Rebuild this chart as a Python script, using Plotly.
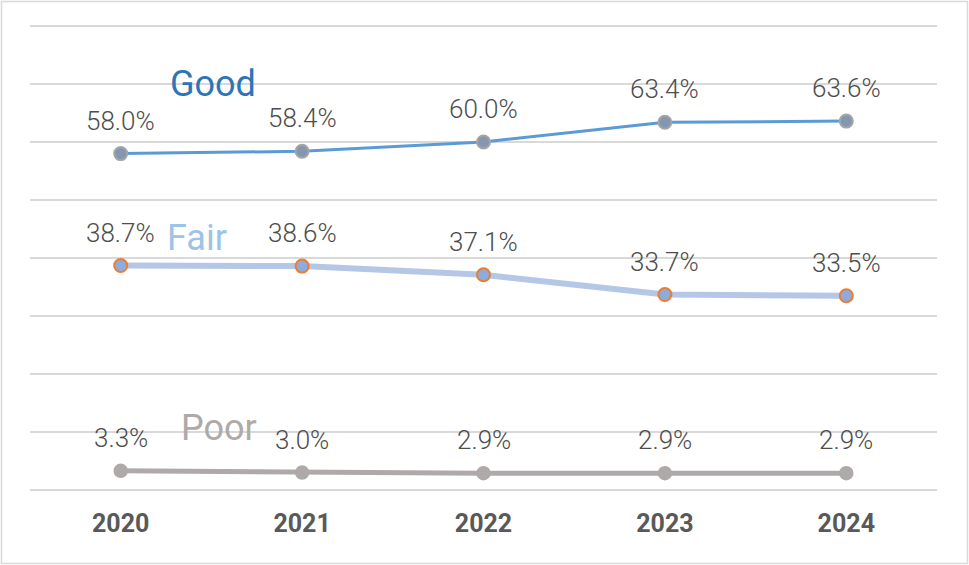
import plotly.graph_objects as go

years = ["2020", "2021", "2022", "2023", "2024"]
good = [58.0, 58.4, 60.0, 63.4, 63.6]
fair = [38.7, 38.6, 37.1, 33.7, 33.5]
poor = [3.3, 3.0, 2.9, 2.9, 2.9]

FONT = "Roboto"
LABEL_COLOR = "#4d4d4d"

fig = go.Figure()

fig.add_trace(go.Scatter(
    x=years, y=poor, mode="lines+markers",
    line=dict(color="#aeaaaa", width=5),
    marker=dict(size=13, color="#aeaaaa", line=dict(color="#aeaaaa", width=1.5)),
    hoverinfo="skip"))
fig.add_trace(go.Scatter(
    x=years, y=fair, mode="lines+markers",
    line=dict(color="#b4c7e7", width=6),
    marker=dict(size=13, color="#8faadc", line=dict(color="#ed7d31", width=2)),
    hoverinfo="skip"))
fig.add_trace(go.Scatter(
    x=years, y=good, mode="lines+markers",
    line=dict(color="#5b9bd5", width=3),
    marker=dict(size=13, color="#8497b0", line=dict(color="#a5a5a5", width=2)),
    hoverinfo="skip"))

annotations = []
for series in (good, fair, poor):
    for i, yv in enumerate(series):
        annotations.append(dict(
            x=i, y=yv, text=f"{yv:.1f}%", showarrow=False, yshift=33,
            font=dict(family=FONT, size=26, color=LABEL_COLOR, weight=300)))

annotations += [
    dict(x=0.51, y=70.0, text="Good", showarrow=False,
         font=dict(family=FONT, size=36, color="#2e75b6")),
    dict(x=0.42, y=43.4, text="Fair", showarrow=False,
         font=dict(family=FONT, size=36, color="#9dc3e6")),
    dict(x=0.54, y=10.7, text="Poor", showarrow=False,
         font=dict(family=FONT, size=36, color="#aeaaaa")),
]

L, R, T, B = 30, 32, 20, 75
W, H = 969, 565
pw, ph = W - L - R, H - T - B

fig.update_layout(
    width=W, height=H,
    margin=dict(l=L, r=R, t=T, b=B),
    paper_bgcolor="white", plot_bgcolor="white",
    showlegend=False,
    annotations=annotations,
    shapes=[dict(type="rect", xref="paper", yref="paper",
                 x0=(1.5 - L) / pw, x1=(967.5 - L) / pw,
                 y0=(T + ph - 563.5) / ph, y1=(T + ph - 1.5) / ph,
                 line=dict(color="#d9d9d9", width=1.5), layer="below")],
    xaxis=dict(type="category", range=[-0.5, 4.5], showgrid=False,
               showline=False, zeroline=False, ticks="",
               ticklabelstandoff=16,
               tickfont=dict(family=FONT, size=25, color="#595959", weight="bold")),
    yaxis=dict(range=[0, 81.03], tickvals=[0, 10, 20, 30, 40, 50, 60, 70, 80],
               showticklabels=False,
               showgrid=True, gridcolor="#d9d9d9", gridwidth=1.5,
               zeroline=True, zerolinecolor="#d9d9d9", zerolinewidth=1.5,
               showline=False),
)

fig.write_html("out.html", config={"displayModeBar": False},
               post_script="document.body.style.margin='0';")
